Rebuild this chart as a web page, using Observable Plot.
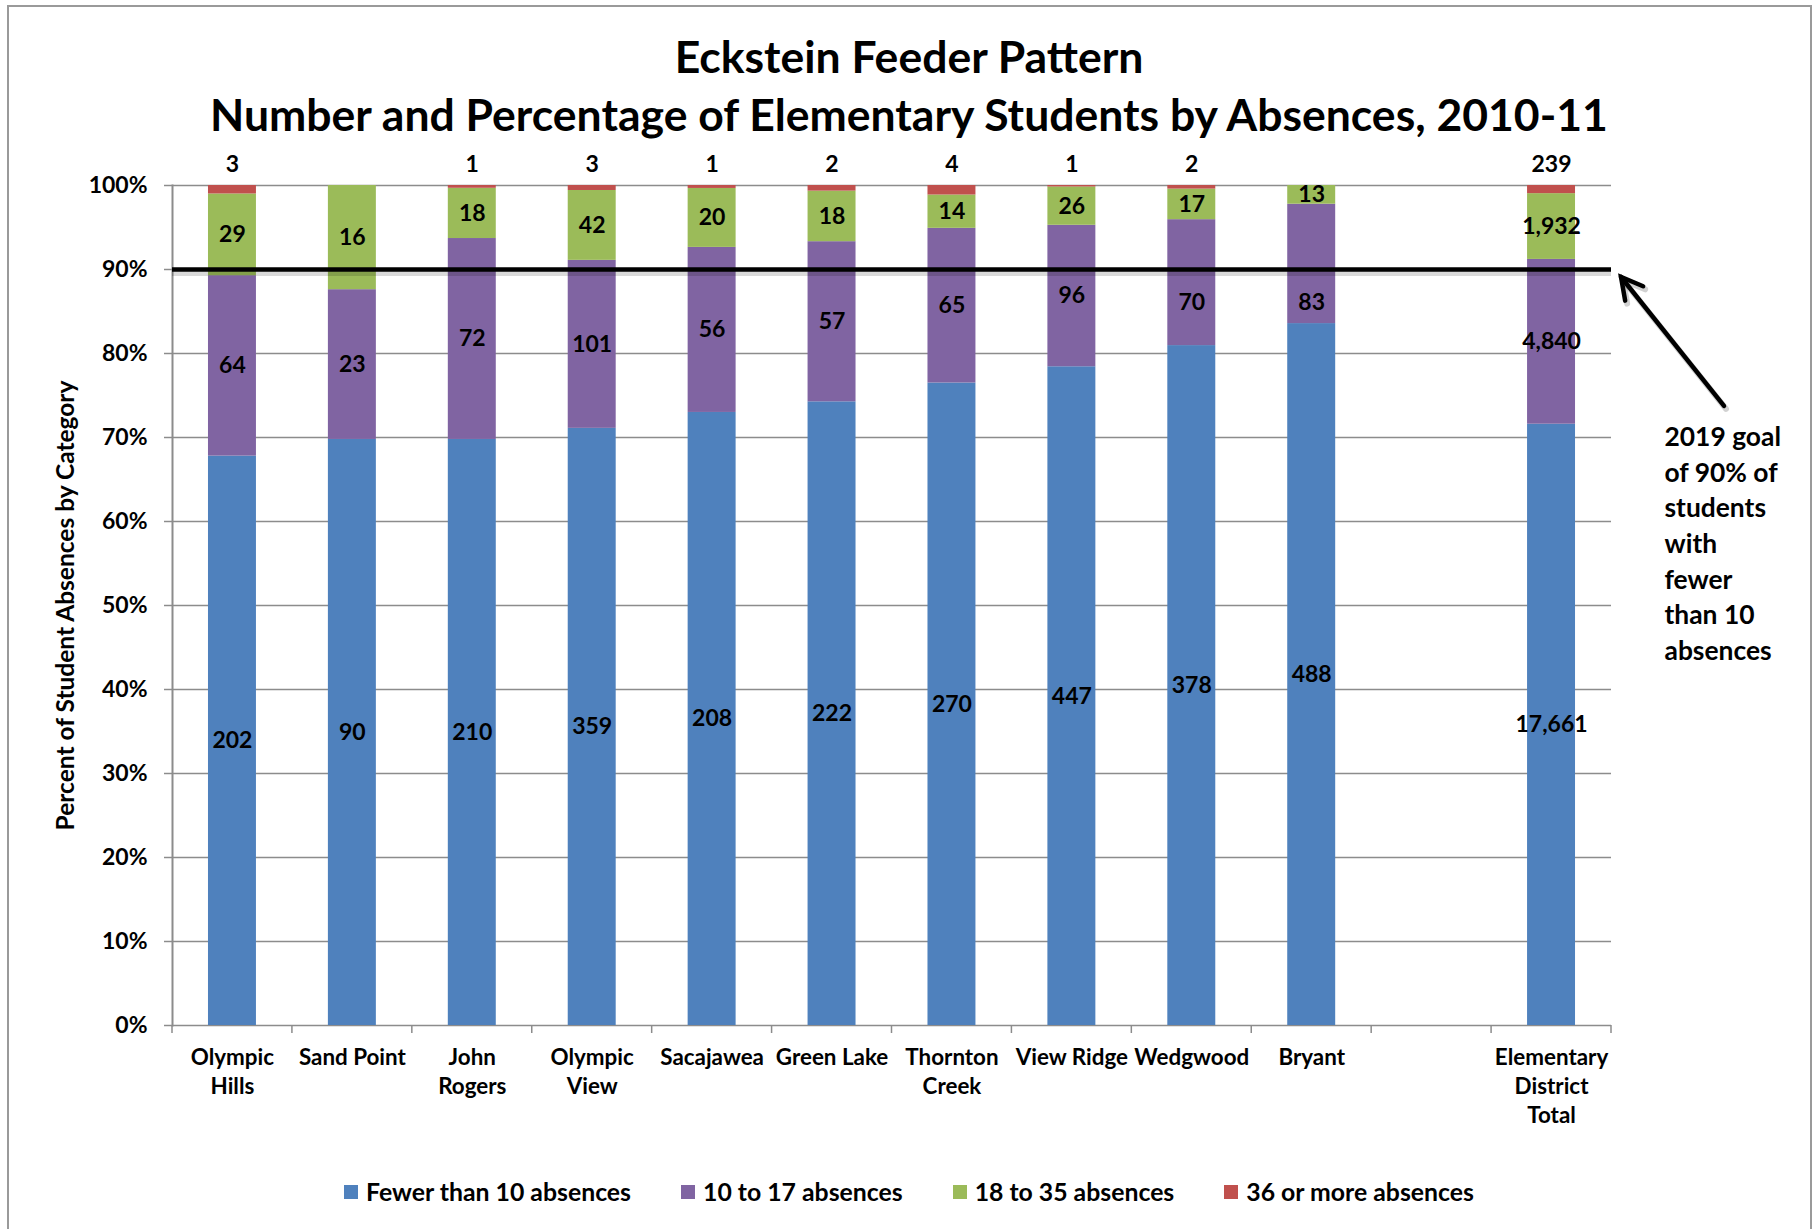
<!DOCTYPE html>
<html>
<head>
<meta charset="utf-8">
<script src="https://cdn.jsdelivr.net/npm/d3@7"></script>
<script src="https://cdn.jsdelivr.net/npm/@observablehq/plot@0.6"></script>
<style>
  html, body { margin: 0; padding: 0; background: #fff; }
  body { width: 1818px; height: 1229px; position: relative; overflow: hidden; font-family: Lato, "Open Sans", sans-serif; font-weight: bold; color: #000; }
  #border { position: absolute; left: 7px; top: 5px; width: 1805px; height: 1260px; border: 2px solid #9a9a9a; border-bottom: none; box-sizing: border-box; }
  #title { position: absolute; top: 27px; left: 0; width: 1818px; text-align: center; font-size: 44.5px; line-height: 58px; }
  #chart { position: absolute; top: 140px; left: 0; }
  #legend { position: absolute; top: 1172px; left: 0; width: 1818px; display: flex; justify-content: center; align-items: center; font-size: 24.8px; line-height: 40px; }
  .item { display: flex; align-items: center; margin: 0 25px; }
  .sw { width: 14px; height: 14px; margin-right: 8px; }
</style>
</head>
<body>
<div id="border"></div>
<div id="title"></div>
<div id="chart"></div>
<div id="legend"></div>
<script>
// ---- Data ----
const titleLines = ["Eckstein Feeder Pattern", "Number and Percentage of Elementary Students by Absences, 2010-11"];
const schools = ["Olympic Hills", "Sand Point", "John Rogers", "Olympic View", "Sacajawea", "Green Lake",
                 "Thornton Creek", "View Ridge", "Wedgwood", "Bryant", "", "Elementary District Total"];
const tickLabels = ["Olympic\nHills", "Sand Point", "John\nRogers", "Olympic\nView", "Sacajawea", "Green Lake",
                    "Thornton\nCreek", "View Ridge", "Wedgwood", "Bryant", "", "Elementary\nDistrict\nTotal"];
const categories = ["Fewer than 10 absences", "10 to 17 absences", "18 to 35 absences", "36 or more absences"];
const colors = ["#4F81BD", "#8064A2", "#9BBB59", "#C0504D"];
const fewerThan10 = [202, 90, 210, 359, 208, 222, 270, 447, 378, 488, null, 17661];
const from10to17  = [64, 23, 72, 101, 56, 57, 65, 96, 70, 83, null, 4840];
const from18to35  = [29, 16, 18, 42, 20, 18, 14, 26, 17, 13, null, 1932];
const over36      = [3, 0, 1, 3, 1, 2, 4, 1, 2, 0, null, 239];
const yTicks = [0, 0.1, 0.2, 0.3, 0.4, 0.5, 0.6, 0.7, 0.8, 0.9, 1];
const goal = 0.9;
const arrowTail = 0.737;
const yTitle = "Percent of Student Absences by Category";
const annotation = ["2019 goal", "of 90% of", "students", "with", "fewer", "than 10", "absences"];
const annotationTop = 0.72;

// ---- Build table ----
const seriesValues = [fewerThan10, from10to17, from18to35, over36];
const rows = [];
schools.forEach((s, i) => {
  const total = d3.sum(seriesValues, v => v[i]);
  let cum = 0;
  categories.forEach((c, j) => {
    const v = seriesValues[j][i];
    if (v == null) return;
    const f0 = cum / total, f1 = (cum + v) / total;
    cum += v;
    rows.push({school: s, category: c, count: v, f0, f1});
  });
});
const fmt = d3.format(",");
const pad = 0.6;
const gridColor = "#8c8c8c";
const topCategory = categories[3];
// label position: middle of segment; a label that would sit on the goal line is moved just below it
function labelY(d) {
  if (d.category === topCategory) return 1;
  const mid = (d.f0 + d.f1) / 2;
  return Math.abs(mid - goal) < 0.025 ? goal - 0.04 : mid;
}

document.getElementById("title").innerHTML = titleLines.map(t => `<div>${t}</div>`).join("");

function categoryTicks(index, scales, values, dims) {
  const step = scales.x(schools[1]) - scales.x(schools[0]);
  const y0 = scales.y(0);
  const xs = schools.map(s => scales.x(s) - pad * step / 2);
  xs.push(xs[xs.length - 1] + step);
  const g = d3.create("svg:g").attr("stroke", gridColor).attr("stroke-width", 1.5);
  xs.forEach(x => g.append("line").attr("x1", x).attr("x2", x).attr("y1", y0).attr("y2", y0 + 8));
  return g.node();
}

function goalArrow(index, scales, values, dims) {
  const xr = dims.width - dims.marginRight;
  const tipX = xr + 10, tipY = scales.y(goal) + 8;
  const tailX = xr + 113, tailY = scales.y(arrowTail);
  const ang = Math.atan2(tipY - tailY, tipX - tailX);
  const L = 24, a = 0.5;
  const g = d3.create("svg:g").attr("fill", "none").attr("stroke-linecap", "round");
  const draw = (sel, ox, oy) => {
    sel.append("line").attr("x1", tailX + ox).attr("y1", tailY + oy).attr("x2", tipX + ox).attr("y2", tipY + oy);
    sel.append("polyline").attr("points", [
      [tipX + ox - L * Math.cos(ang - a), tipY + oy - L * Math.sin(ang - a)],
      [tipX + ox, tipY + oy],
      [tipX + ox - L * Math.cos(ang + a), tipY + oy - L * Math.sin(ang + a)]
    ].map(p => p.join(",")).join(" "));
  };
  draw(g.append("g").attr("stroke", "#000").attr("stroke-opacity", 0.18).attr("stroke-width", 6), 2, 3);
  draw(g.append("g").attr("stroke", "#000").attr("stroke-width", 4.5), 0, 0);
  return g.node();
}

const plot = Plot.plot({
  width: 1818,
  height: 1020,
  marginLeft: 172,
  marginRight: 207,
  marginTop: 45,
  marginBottom: 135,
  style: {fontFamily: "Lato, 'Open Sans', sans-serif", fontWeight: "bold", fontSize: "23px", color: "#000", background: "transparent", overflow: "visible"},
  x: {domain: schools, paddingInner: pad, paddingOuter: pad / 2, round: false, label: null},
  y: {domain: [0, 1], label: null},
  color: {domain: categories, range: colors},
  marks: [
    Plot.gridY(yTicks, {stroke: gridColor, strokeOpacity: 1, strokeWidth: 1.5}),
    Plot.barY(rows, {x: "school", y: "count", fill: "category", order: categories, offset: "normalize"}),
    Plot.frame({anchor: "left", stroke: gridColor, strokeWidth: 2}),
    Plot.axisY(yTicks, {tickSize: 8, tickPadding: 17, tickFormat: ".0%", stroke: gridColor, strokeWidth: 1.5, fontSize: 23, label: null}),
    Plot.axisX({tickSize: 0, tickPadding: 19, tickFormat: d => tickLabels[schools.indexOf(d)], fontSize: 22.4, lineHeight: 1.3, label: null}),
    categoryTicks,
    Plot.text(rows, {
      x: "school", y: labelY,
      text: d => (d.category !== topCategory && d.count > 0) ? fmt(d.count) : null,
      fill: "#000", fontSize: 23
    }),
    Plot.text(rows, {
      x: "school", y: labelY,
      text: d => (d.category === topCategory && d.count > 0) ? fmt(d.count) : null,
      fill: "#000", fontSize: 23, dy: -21
    }),
    Plot.ruleY([goal], {stroke: "#000", strokeOpacity: 0.15, strokeWidth: 7, dy: 3}),
    Plot.ruleY([goal], {stroke: "#000", strokeWidth: 4.5}),
    goalArrow,
    Plot.text([annotation.join("\n")], {frameAnchor: "right", y: [annotationTop], dx: 53, textAnchor: "start", lineAnchor: "top", lineHeight: 1.35, fontSize: 26.4, fill: "#000"}),
    Plot.text([yTitle], {frameAnchor: "left", rotate: -90, dx: -106, textAnchor: "middle", fontSize: 24.5, fill: "#000"})
  ]
});
document.getElementById("chart").appendChild(plot);

const legend = document.getElementById("legend");
categories.forEach((c, i) => {
  const item = document.createElement("div");
  item.className = "item";
  item.innerHTML = `<span class="sw" style="background:${colors[i]}"></span><span>${c}</span>`;
  legend.appendChild(item);
});
</script>
</body>
</html>
